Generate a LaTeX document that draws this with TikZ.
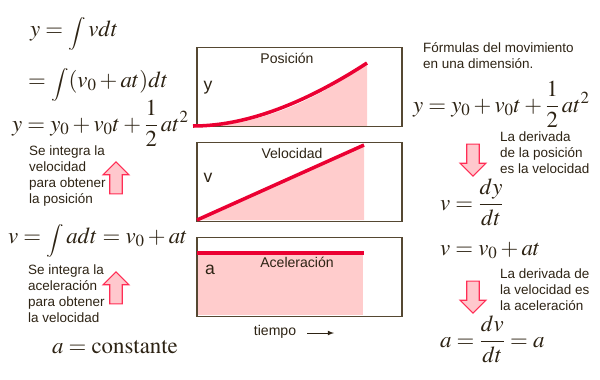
\documentclass[tikz,border=0pt]{standalone}
\usepackage{mathptmx}
\usepackage[no-math]{fontspec}
\setmainfont{Liberation Serif}
\setsansfont{Liberation Sans}
\usepackage{tikz}
\usetikzlibrary{shapes.arrows, arrows, positioning}
\definecolor{txt}{RGB}{45,35,20}
\definecolor{frame}{RGB}{85,72,50}
\definecolor{curvered}{RGB}{235,0,50}
\definecolor{areapink}{RGB}{255,204,204}
\definecolor{arrowred}{RGB}{255,45,85}
\definecolor{arrowpink}{RGB}{255,200,205}
\newcommand{\bigfrac}[2]{{\displaystyle\frac{#1}{#2}}}
\newcommand{\tallint}{\mathop{\raisebox{-3.5pt}{$\vcenter{\hbox{\scalebox{0.85}[0.72]{$\displaystyle\int$}}}$}}\nolimits}
\tikzstyle{formula} = [text=txt, font=\fontsize{19.5}{23}\selectfont, inner sep=0pt, anchor=base west]
\tikzstyle{note} = [text=txt, font=\sffamily\fontsize{11.5}{13.8}\selectfont, align=left, inner sep=0pt, anchor=north west]
\tikzstyle{plotbox} = [draw=frame, line width=1pt, minimum width=6.15cm, minimum height=2.37cm, inner sep=0pt]
\tikzstyle{boxlabel} = [text=txt, font=\sffamily\fontsize{12}{14}\selectfont, inner sep=0pt]
\tikzstyle{axislabel} = [text=txt, font=\sffamily\fontsize{15}{17}\selectfont, inner sep=0pt]
\tikzstyle{curve} = [draw=curvered, line width=3pt]
\tikzstyle{area} = [fill=areapink]
\tikzstyle{bigarrow} = [single arrow, draw=arrowred, fill=arrowpink, line width=1pt, inner sep=0.17cm, single arrow head extend=0.2cm, minimum height=0.96cm]

\begin{document}
\begin{tikzpicture}[x=0.03cm, y=-0.03cm]
\useasboundingbox (0,0) rectangle (600,379);
% integrals, left
\node (yint) [formula] at (30,36) {$y = \tallint vdt$};
\node (yint2) [formula] at (28,87) {$= \tallint (v_0 + at)dt$};
\node (yleft) [formula] at (12,131) {$y = y_0 + v_0t + \bigfrac{1}{2}\,at^2$};
\node (intvel) [note] at (29,145) {Se integra la\\velocidad\\para obtener\\la posición};
\node (uppos) [bigarrow, rotate=90] at (116,181) {};
\node (vleft) [formula] at (8,243) {$v = \tallint adt = v_0 + at$};
\node (intacc) [note] at (28,264) {Se integra la\\aceleración\\para obtener\\la velocidad};
\node (upvel) [bigarrow, rotate=90] at (116,291) {};
\node (aconst) [formula] at (52,353) {$a = \mathrm{constante}$};

% graphs
\fill[area] (197,126) -- plot[domain=197:367, samples=40] (\x, {126-63*((\x-197)/170)^2}) -- (367,126) -- cycle;
\fill[area] (197,220) -- (364,145) -- (364,220) -- cycle;
\fill[area] (197,253) rectangle (363,315);
\node (posbox) [plotbox] at (299.5,87) {};
\node (velbox) [plotbox] at (299.5,182) {};
\node (accbox) [plotbox] at (299.5,277) {};
\node (poslabel) [boxlabel] at (287,58) {Posición};
\node (vellabel) [boxlabel] at (292,153) {Velocidad};
\node (acclabel) [boxlabel] at (297,262) {Aceleración};
\node (ylabel) [axislabel] at (208,88) {y};
\node (vlabel) [axislabel] at (208,178) {v};
\node (alabel) [axislabel] at (210,270) {a};
\draw[curve] (193,126) .. controls (250,126) and (310,100) .. (367,63);
\draw[curve] (197,220) -- (364,145);
\draw[curve] (197,253) -- (364,253);
\node (tiempo) [boxlabel] at (275,332) {tiempo};
\coordinate (tstart) at (307,333);
\coordinate (tend) at (334,333);
\draw[-latex, txt, line width=0.8pt] (tstart) -- (tend);

% derivatives, right
\node (titulo) [note] at (423,42) {Fórmulas del movimiento\\en una dimensión.};
\node (yright) [formula] at (413,112) {$y = y_0 + v_0t + \bigfrac{1}{2}\,at^2$};
\node (downpos) [bigarrow, rotate=-90] at (473,157) {};
\node (derpos) [note] at (500,131) {La derivada\\de la posición\\es la velocidad};
\node (vder) [formula] at (440,210) {$v = \bigfrac{dy}{dt}$};
\node (vright) [formula] at (440,255) {$v = v_0 + at$};
\node (downvel) [bigarrow, rotate=-90] at (473,294) {};
\node (dervel) [note] at (500,268) {La derivada de\\la velocidad es\\la aceleración};
\node (ader) [formula] at (440,347) {$a = \bigfrac{dv}{dt} = a$};
\end{tikzpicture}
\end{document}
